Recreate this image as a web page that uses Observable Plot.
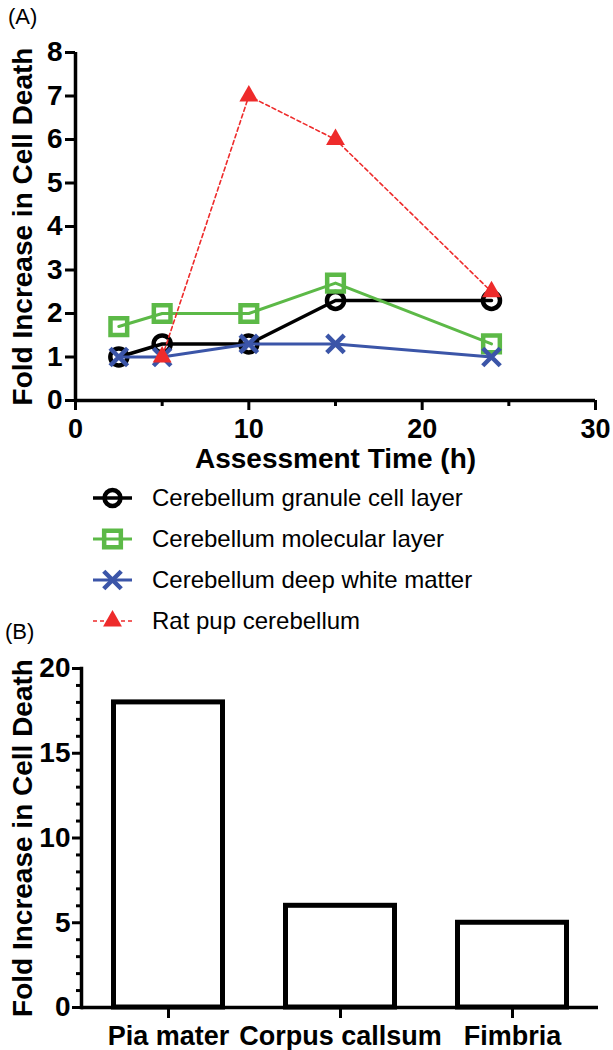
<!DOCTYPE html>
<html>
<head>
<meta charset="utf-8">
<script src="https://cdn.jsdelivr.net/npm/d3@7"></script>
<script src="https://cdn.jsdelivr.net/npm/@observablehq/plot@0.6"></script>
<style>
  html, body { margin: 0; padding: 0; background: #fff; }
  #root { position: relative; width: 613px; height: 1050px; font-family: "Liberation Sans", Arial, sans-serif; }
  .panel-label { position: absolute; font-size: 22px; color: #000; z-index: 2; }
  #plotA, #plotB, #legend { position: absolute; left: 0; }
  #plotA { top: 0; }
  #legend { top: 478px; }
  #plotB { top: 640px; }
  svg { overflow: visible; }
</style>
</head>
<body>
<div id="root">
  <div class="panel-label" style="left:8px; top:4px;">(A)</div>
  <div id="plotA"></div>
  <div id="legend"></div>
  <div class="panel-label" style="left:5px; top:619px;">(B)</div>
  <div id="plotB"></div>
</div>
<script>
// ---------- Panel A data ----------
const timesA = [2.5, 5, 10, 15, 24];
const granule = [1.0, 1.3, 1.3, 2.3, 2.3];
const molecular = [1.7, 2.0, 2.0, 2.7, 1.3];
const whiteMatter = [1.0, 1.0, 1.3, 1.3, 1.0];
const ratPupTimes = [5, 10, 15, 24];
const ratPup = [1.0, 7.0, 6.0, 2.5];

const seriesNames = [
  "Cerebellum granule cell layer",
  "Cerebellum molecular layer",
  "Cerebellum deep white matter",
  "Rat pup cerebellum"
];
const seriesColors = ["#000000", "#5cb947", "#3b55a8", "#ee2b2b"];

const xMajorA = [0, 10, 20, 30];
const xMinorA = [5, 15, 25];
const yTicksA = [0, 1, 2, 3, 4, 5, 6, 7, 8];

// ---------- Panel B data ----------
const regions = ["Pia mater", "Corpus callsum", "Fimbria"];
const regionValues = [18, 6, 5];
const yMajorB = [0, 5, 10, 15, 20];
const yMinorB = d3.range(0, 21).filter(v => v % 5 !== 0);

const FONT = "Liberation Sans, Arial, Helvetica, sans-serif";
const FS = 28;
const yLabel = "Fold Increase in Cell Death";

const toRows = (xs, ys) => xs.map((x, i) => ({x, y: ys[i]}));
const dGran = toRows(timesA, granule);
const dMol = toRows(timesA, molecular);
const dWhite = toRows(timesA, whiteMatter);
const dRat = toRows(ratPupTimes, ratPup);

const plotA = Plot.plot({
  width: 613,
  height: 478,
  marginLeft: 75,
  marginRight: 18,
  marginTop: 52,
  marginBottom: 78,
  x: {domain: [0, 30]},
  y: {domain: [0, 8]},
  style: {fontFamily: FONT, fontSize: FS + "px", fontWeight: "bold", color: "#000", background: "transparent"},
  marks: [
    Plot.axisX({ticks: xMajorA, tickSize: 10, tickPadding: 8, strokeWidth: 3, label: null, fontSize: 27, fontWeight: "bold"}),
    Plot.axisX({ticks: xMinorA, tickSize: 6, strokeWidth: 3, label: null, tickFormat: () => ""}),
    Plot.axisY({ticks: yTicksA, tickSize: 10, tickPadding: 3, strokeWidth: 3, label: null, fontSize: FS, fontWeight: "bold"}),
    Plot.ruleY([0], {stroke: "#000", strokeWidth: 3.5}),
    Plot.ruleX([0], {stroke: "#000", strokeWidth: 3.5}),
    Plot.text([yLabel], {frameAnchor: "left", textAnchor: "middle", dx: -52, rotate: -90, fontSize: FS, fontWeight: "bold", fill: "#000"}),
    Plot.text(["Assessment Time (h)"], {frameAnchor: "bottom", textAnchor: "middle", dy: 67, fontSize: FS, fontWeight: "bold", fill: "#000"}),
    // granule
    Plot.line(dGran, {x: "x", y: "y", stroke: seriesColors[0], strokeWidth: 3.5}),
    Plot.dot(dGran, {x: "x", y: "y", symbol: "circle", r: 8.5, stroke: seriesColors[0], strokeWidth: 4.5, fill: "none"}),
    // molecular
    Plot.line(dMol, {x: "x", y: "y", stroke: seriesColors[1], strokeWidth: 3}),
    Plot.dot(dMol, {x: "x", y: "y", symbol: "square", r: 9.4, stroke: seriesColors[1], strokeWidth: 4.5, fill: "none"}),
    // white matter
    Plot.line(dWhite, {x: "x", y: "y", stroke: seriesColors[2], strokeWidth: 3}),
    Plot.dot(dWhite, {x: "x", y: "y", symbol: "times", r: 8, stroke: seriesColors[2], strokeWidth: 4.5, fill: "none"}),
    // rat pup
    Plot.line(dRat, {x: "x", y: "y", stroke: seriesColors[3], strokeWidth: 1.6, strokeDasharray: "4,3"}),
    Plot.dot(dRat, {x: "x", y: "y", symbol: "triangle", r: 7, fill: seriesColors[3], stroke: "none"})
  ]
});
document.getElementById("plotA").appendChild(plotA);

// ---------- Legend ----------
(function () {
  const rowY = [20, 61, 102, 143];
  const svg = d3.select("#legend").append("svg")
    .attr("width", 613).attr("height", 160)
    .style("font-family", FONT);
  const symbols = [
    {type: d3.symbolCircle, size: Math.PI * 64, fill: "none", stroke: true, sw: 4.5},
    {type: d3.symbolSquare, size: Math.PI * 9.4 * 9.4, fill: "none", stroke: true, sw: 4.5},
    {type: d3.symbolTimes, size: Math.PI * 64, fill: "none", stroke: true, sw: 4.5},
    {type: d3.symbolTriangle, size: Math.PI * 49, fill: true, stroke: false, sw: 0}
  ];
  const lineW = [3.5, 3, 3, 1.6];
  seriesNames.forEach((name, i) => {
    const g = svg.append("g").attr("transform", `translate(0,${rowY[i]})`);
    g.append("line").attr("x1", 93).attr("x2", 132).attr("y1", 0).attr("y2", 0)
      .attr("stroke", seriesColors[i]).attr("stroke-width", lineW[i])
      .attr("stroke-dasharray", i === 3 ? "4,3" : null);
    const s = symbols[i];
    g.append("path").attr("d", d3.symbol(s.type, s.size)())
      .attr("transform", "translate(112.5,0)")
      .attr("fill", s.fill === true ? seriesColors[i] : "none")
      .attr("stroke", s.stroke ? seriesColors[i] : "none")
      .attr("stroke-width", s.sw);
    g.append("text").attr("x", 152).attr("y", 0).attr("dy", "0.35em")
      .attr("font-size", 24).attr("fill", "#000").text(name);
  });
})();

// ---------- Panel B ----------
const dataB = regions.map((r, i) => ({region: r, value: regionValues[i]}));
const plotB = Plot.plot({
  width: 613,
  height: 410,
  marginLeft: 81,
  marginRight: 15,
  marginTop: 28,
  marginBottom: 43,
  x: {domain: regions, paddingInner: 0.34, paddingOuter: 0.17},
  y: {domain: [0, 20]},
  style: {fontFamily: FONT, fontSize: FS + "px", fontWeight: "bold", color: "#000", background: "transparent"},
  marks: [
    Plot.barY(dataB, {x: "region", y: "value", fill: "white", stroke: "#000", strokeWidth: 5, insetLeft: 2.5, insetRight: 2.5}),
    Plot.axisX({tickSize: 11, tickPadding: 7, strokeWidth: 3, label: null, fontSize: 27, fontWeight: "bold"}),
    Plot.axisY({ticks: yMajorB, tickSize: 9, tickPadding: 2, strokeWidth: 3, label: null, fontSize: FS, fontWeight: "bold"}),
    Plot.axisY({ticks: yMinorB, tickSize: 5, strokeWidth: 3, label: null, tickFormat: () => ""}),
    Plot.ruleY([0], {stroke: "#000", strokeWidth: 3.5}),
    Plot.frame({anchor: "left", stroke: "#000", strokeWidth: 3.5}),
    Plot.text([yLabel], {frameAnchor: "left", textAnchor: "middle", dx: -58, rotate: -90, fontSize: FS, fontWeight: "bold", fill: "#000"})
  ]
});
document.getElementById("plotB").appendChild(plotB);
</script>
</body>
</html>
